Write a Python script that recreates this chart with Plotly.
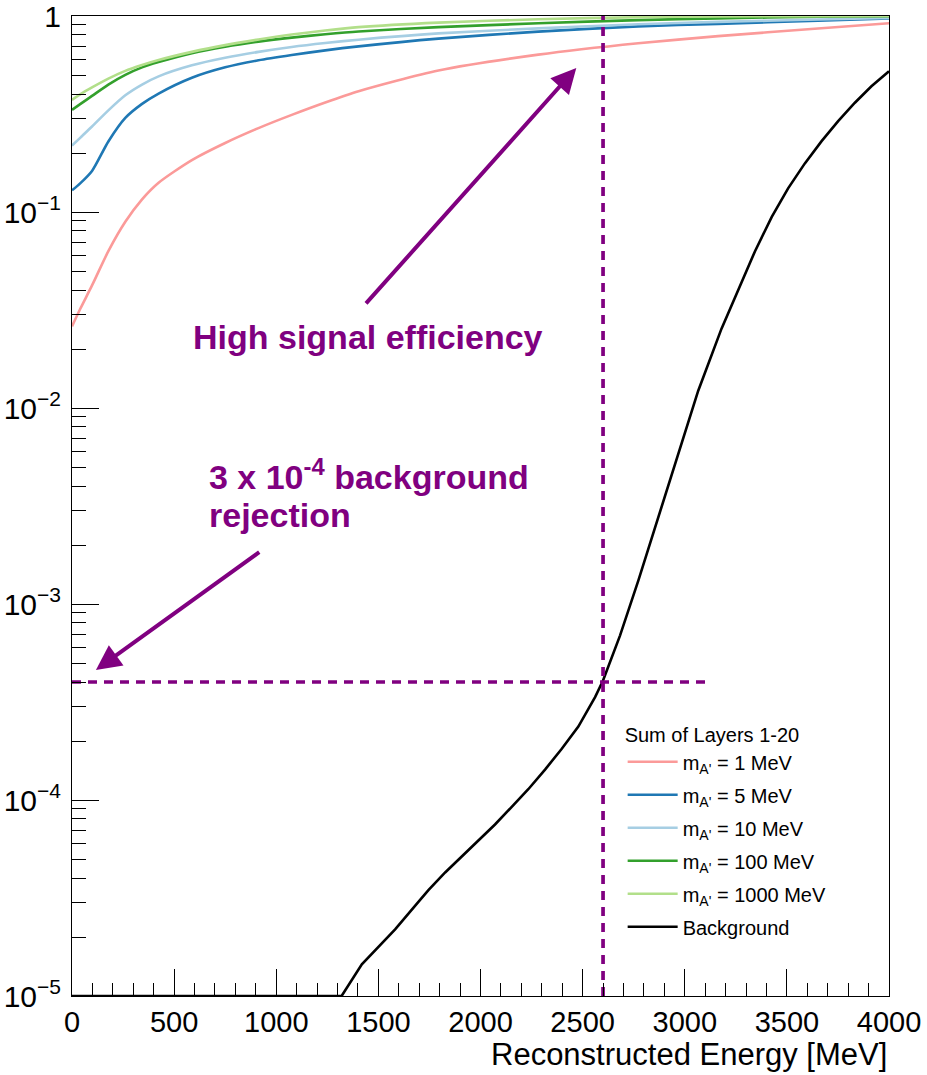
import plotly.graph_objects as go

# Reconstructed-energy thresholds (MeV) at which the signal efficiencies are sampled
energy_sig = [0, 40, 98, 178, 261, 343, 424, 587, 750, 913, 1076, 1240, 1403,
              1794, 2283, 2772, 3163, 3652, 4000]

# Signal efficiency per A' mass
eff_1mev = [0.0261, 0.0320, 0.0422, 0.0631, 0.0891, 0.116, 0.141, 0.184, 0.225,
            0.268, 0.313, 0.362, 0.413, 0.527, 0.635, 0.726, 0.789, 0.863, 0.918]
eff_5mev = [0.129, 0.140, 0.162, 0.229, 0.302, 0.356, 0.402, 0.484, 0.547,
            0.594, 0.632, 0.668, 0.700, 0.767, 0.832, 0.885, 0.912, 0.946, 0.973]
eff_10mev = [0.218, 0.239, 0.273, 0.330, 0.394, 0.447, 0.492, 0.560, 0.612,
             0.656, 0.695, 0.728, 0.757, 0.815, 0.865, 0.908, 0.933, 0.959, 0.977]
eff_100mev = [0.332, 0.355, 0.391, 0.447, 0.501, 0.547, 0.582, 0.646, 0.697,
              0.740, 0.776, 0.807, 0.834, 0.877, 0.918, 0.953, 0.973, 0.991, 0.998]
eff_1000mev = [0.373, 0.398, 0.432, 0.479, 0.525, 0.562, 0.596, 0.656, 0.710,
               0.759, 0.804, 0.843, 0.877, 0.925, 0.962, 0.986, 0.995, 0.999, 1.0]

# Background efficiency vs threshold
energy_bkg = [0, 1320, 1419, 1500, 1582, 1696, 1745, 1827, 1908, 1990, 2071, 2153,
              2234, 2316, 2397, 2479, 2521, 2561, 2600, 2640, 2683, 2773, 2854, 2928,
              3017, 3066, 3180, 3262, 3344, 3426, 3506, 3588, 3670, 3751, 3833, 3914,
              4000]
eff_bkg = [1.0e-5, 1.0e-5, 1.45e-5, 1.78e-5, 2.19e-5, 3.02e-5, 3.47e-5, 4.27e-5,
           5.13e-5, 6.17e-5, 7.50e-5, 9.23e-5, 1.135e-4, 1.43e-4, 1.82e-4, 2.37e-4,
           2.82e-4, 3.35e-4, 4.07e-4, 5.25e-4, 6.90e-4, 1.32e-3, 2.45e-3, 4.27e-3,
           8.41e-3, 1.225e-2, 2.54e-2, 4.03e-2, 6.31e-2, 9.44e-2, 0.132, 0.177,
           0.230, 0.291, 0.361, 0.438, 0.522]

signal_labels = ["m<sub>A'</sub> = 1 MeV", "m<sub>A'</sub> = 5 MeV",
                 "m<sub>A'</sub> = 10 MeV", "m<sub>A'</sub> = 100 MeV",
                 "m<sub>A'</sub> = 1000 MeV"]
signal_colors = ["#fb9a99", "#1f78b4", "#a6cee3", "#33a02c", "#b2df8a"]

# Working point
cut_energy = 2600
bkg_level = 4e-4
bkg_line_end = 3130

x_ticks = [0, 500, 1000, 1500, 2000, 2500, 3000, 3500, 4000]
y_ticks = [1e-5, 1e-4, 1e-3, 1e-2, 1e-1, 1]
y_ticktext = ["10<sup>\u22125</sup>", "10<sup>\u22124</sup>", "10<sup>\u22123</sup>",
              "10<sup>\u22122</sup>", "10<sup>\u22121</sup>", "1"]
y_minor = [m * 10 ** e for e in range(-5, 0) for m in range(2, 10)]

PURPLE = "#800080"
FONT = "Liberation Sans"

fig = go.Figure()

signals = [eff_1mev, eff_5mev, eff_10mev, eff_100mev, eff_1000mev]
for i, (vals, name, col) in enumerate(zip(signals, signal_labels, signal_colors)):
    fig.add_trace(go.Scatter(
        x=energy_sig, y=vals, mode="lines", name=name,
        line=dict(color=col, width=2.6, shape="spline", smoothing=0.7),
        legendgroup=f"g{i}",
    ))

fig.add_trace(go.Scatter(
    x=energy_bkg, y=eff_bkg, mode="lines", name="Background",
    line=dict(color="black", width=2.6),
    legendgroup="bkg",
))

# Working-point guide lines
fig.add_trace(go.Scatter(
    x=[0, bkg_line_end], y=[bkg_level, bkg_level], mode="lines",
    line=dict(color=PURPLE, width=3.7, dash="9px,7px"), showlegend=False,
    hoverinfo="skip",
))
fig.add_trace(go.Scatter(
    x=[cut_energy, cut_energy], y=[1e-5, 1], mode="lines",
    line=dict(color=PURPLE, width=3.7, dash="9px,7px"), showlegend=False,
    hoverinfo="skip",
))

# Callout arrows (annotation coordinates on the log axis are log10 values)
arrows = [
    dict(tip=(117, -3.337), tail=(924, -2.730)),
    dict(tip=(2469, -0.265), tail=(1433, -1.474)),
]
for a in arrows:
    fig.add_annotation(
        x=a["tip"][0], y=a["tip"][1], ax=a["tail"][0], ay=a["tail"][1],
        xref="x", yref="y", axref="x", ayref="y", text="", showarrow=True,
        arrowhead=2, arrowsize=1.25, arrowwidth=4, arrowcolor=PURPLE, standoff=0,
    )

label_font = dict(family=FONT, size=34, color=PURPLE, weight="bold")
fig.add_annotation(x=582, y=-1.638, xref="x", yref="y", text="High signal efficiency",
                   showarrow=False, xanchor="left", yanchor="middle", font=label_font)
fig.add_annotation(x=660, y=-2.340, xref="x", yref="y",
                   text="3 x 10<sup>-4</sup> background",
                   showarrow=False, xanchor="left", yanchor="middle", font=label_font)
fig.add_annotation(x=660, y=-2.546, xref="x", yref="y", text="rejection",
                   showarrow=False, xanchor="left", yanchor="middle", font=label_font)

# Axis title, right-aligned under the axis
fig.add_annotation(x=1, y=-0.0602, xref="paper", yref="paper",
                   text="Reconstructed Energy [MeV]", showarrow=False,
                   xanchor="right", yanchor="middle",
                   font=dict(family=FONT, size=31, color="black"))

fig.update_xaxes(
    range=[0, 4000], tickvals=x_ticks, ticks="inside", ticklen=27, tickwidth=1,
    tickcolor="black", showline=True, linecolor="black", linewidth=1, mirror=True,
    showgrid=False, zeroline=False, ticklabelstandoff=0, automargin=False,
    tickfont=dict(family=FONT, size=29, color="black"),
    minor=dict(dtick=100, tick0=0, ticks="inside", ticklen=13, tickcolor="black",
               tickwidth=1, showgrid=False),
)
fig.update_yaxes(
    type="log", range=[-5, 0], tickvals=y_ticks, ticktext=y_ticktext,
    ticks="inside", ticklen=27, tickwidth=1, tickcolor="black",
    showline=True, linecolor="black", linewidth=1, mirror=True,
    showgrid=False, zeroline=False, ticklabelstandoff=4, automargin=False,
    ticklabeloverflow="allow",
    tickfont=dict(family=FONT, size=30, color="black"),
    minor=dict(tickvals=y_minor, ticks="inside", ticklen=14, tickcolor="black",
               tickwidth=1, showgrid=False),
)

fig.update_layout(
    width=927, height=1075,
    margin=dict(l=72, r=38, t=16, b=79),
    plot_bgcolor="white", paper_bgcolor="white",
    font=dict(family=FONT, color="black"),
    legend=dict(
        x=0.674, y=0.2855, xanchor="left", yanchor="top",
        bgcolor="rgba(0,0,0,0)", borderwidth=0,
        font=dict(family=FONT, size=20, color="black"),
        title=dict(text="Sum of Layers 1-20", font=dict(family=FONT, size=20)),
        tracegroupgap=4, traceorder="grouped", itemwidth=50,
    ),
)

fig.write_html("out.html")
